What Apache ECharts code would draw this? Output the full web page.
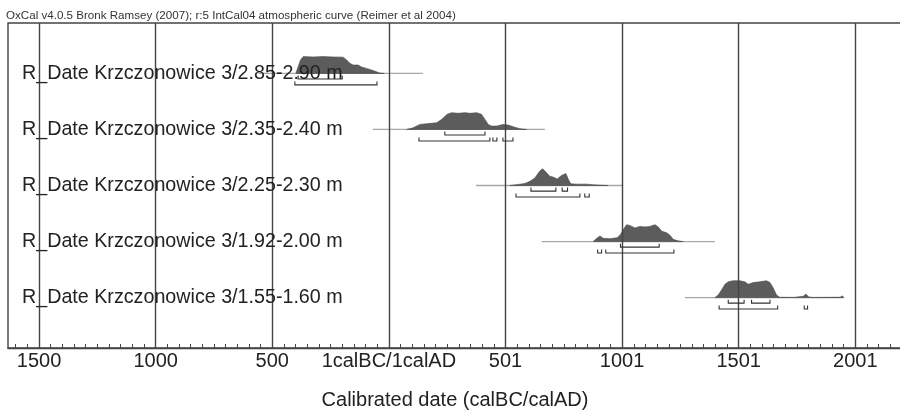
<!DOCTYPE html>
<html>
<head>
<meta charset="utf-8">
<script src="https://cdn.jsdelivr.net/npm/echarts@6/dist/echarts.min.js"></script>
<style>
html,body{margin:0;padding:0;background:#fff;}
#c{width:900px;height:410px;}
</style>
</head>
<body>
<div id="c"></div>
<script>
const titleText = 'OxCal v4.0.5 Bronk Ramsey (2007); r:5 IntCal04 atmospheric curve (Reimer et al 2004)';
const axisName = 'Calibrated date (calBC/calAD)';
const rowNames = [
  'R_Date Krzczonowice 3/2.85-2.90 m',
  'R_Date Krzczonowice 3/2.35-2.40 m',
  'R_Date Krzczonowice 3/2.25-2.30 m',
  'R_Date Krzczonowice 3/1.92-2.00 m',
  'R_Date Krzczonowice 3/1.55-1.60 m'
];
const rowPos = [4.9, 3.9, 2.9, 1.9, 0.9];
const majorTicks = [-1500, -1000, -500, 0, 500, 1000, 1500, 2000];
const majorLabels = ['1500', '1000', '500', '1calBC/1calAD', '501', '1001', '1501', '2001'];

// relative probability curves [year, relative height]
const dist1 = [[-399,0],[-389,0.4],[-379,0.8],[-367,1.0],[-325,0.98],[-282,1.0],[-239,0.98],[-196,0.97],[-181,0.8],[-167,0.6],[-153,0.5],[-132,0.5],[-117,0.38],[-96,0.3],[-74,0.2],[-53,0.1],[-39,0.02],[-20,0]];
const dist2 = [[76,0],[104,0.1],[133,0.3],[162,0.34],[205,0.4],[226,0.6],[250,0.9],[269,1.0],[297,0.96],[326,1.0],[347,0.96],[376,1.0],[397,0.9],[412,0.6],[426,0.3],[440,0.2],[462,0.2],[490,0.3],[512,0.26],[533,0.16],[562,0.04],[590,0]];
const dist3 = [[519,0],[554,0.06],[583,0.12],[605,0.25],[626,0.45],[647,0.86],[659,1.0],[673,0.8],[690,0.55],[704,0.5],[722,0.39],[740,0.6],[759,0.71],[770,0.35],[780,0.1],[805,0.08],[848,0.08],[876,0.04],[919,0.01],[940,0]];
const dist4 = [[876,0],[891,0.19],[905,0.33],[919,0.19],[948,0.17],[979,0.23],[993,0.42],[1005,0.71],[1019,1.0],[1033,0.96],[1055,0.81],[1076,0.9],[1098,0.87],[1119,0.9],[1141,1.0],[1155,0.87],[1169,0.62],[1191,0.52],[1205,0.38],[1219,0.13],[1240,0.04],[1262,0]];
const dist5 = [[1398,0],[1412,0.15],[1427,0.47],[1441,0.79],[1455,0.94],[1476,1.0],[1505,1.0],[1526,0.94],[1541,0.79],[1562,0.89],[1591,0.94],[1619,1.0],[1634,0.89],[1648,0.57],[1662,0.15],[1676,0.02],[1734,0.01],[1777,0.08],[1788,0.21],[1800,0.04],[1819,0.01],[1934,0.02],[1945,0.1],[1951,0]];
const dists = [dist1, dist2, dist3, dist4, dist5];

// faint full range line of each distribution [from, to]
const tails = [[-560,146],[-69,669],[373,1005],[655,1398],[1269,1947]];

// highest probability ranges
const ranges68 = [
  [[-389,-200]],
  [[240,412]],
  [[609,716],[743,766]],
  [[993,1159]],
  [[1455,1523],[1555,1634]]
];
const ranges95 = [
  [[-403,-51]],
  [[129,433],[446,463],[489,532]],
  [[545,819],[840,859]],
  [[895,912],[930,1222]],
  [[1416,1667],[1781,1795]]
];

const X_MIN = -1633, X_MAX = 2200;
const Y_MAX = 5.8;
const PEAK = 0.3;           // height of peak in row units
const OFF68 = 0.1, OFF95 = 0.205;
const FONT = 'Liberation Sans, Arial, sans-serif';

const minorTicks = [];
for (let v = -1600; v <= 2150; v += 50) minorTicks.push(v);

const chart = echarts.init(document.getElementById('c'), null, {renderer: 'canvas'});

const series = [];

// major grid lines
series.push({
  type: 'line', data: [], silent: true,
  markLine: {
    silent: true, symbol: 'none', label: {show: false},
    lineStyle: {type: 'solid', color: '#444', width: 1.4},
    emphasis: {disabled: true},
    data: majorTicks.map(v => ({xAxis: v}))
  }
});

// faint tails
tails.forEach((t, i) => {
  series.push({
    type: 'line', silent: true, showSymbol: false,
    data: [[t[0], rowPos[i]], [t[1], rowPos[i]]],
    lineStyle: {color: '#a8a8a8', width: 1.3},
    z: 3
  });
});

// distributions
dists.forEach((d, i) => {
  series.push({
    type: 'custom', silent: true, z: 4,
    data: [[i]],
    renderItem: function (params, api) {
      const base = rowPos[i];
      const pts = d.map(p => api.coord([p[0], base + p[1] * PEAK]));
      pts.unshift(api.coord([d[0][0], base]));
      pts.push(api.coord([d[d.length - 1][0], base]));
      return {
        type: 'polygon',
        shape: {points: pts},
        style: {fill: '#5c5c5c', stroke: '#4a4a4a', lineWidth: 0.6}
      };
    }
  });
});

// brackets
const brData = [];
ranges68.forEach((rs, i) => rs.forEach(r => brData.push([i, 0, r[0], r[1]])));
ranges95.forEach((rs, i) => rs.forEach(r => brData.push([i, 1, r[0], r[1]])));
series.push({
  type: 'custom', silent: true, z: 5,
  data: brData,
  renderItem: function (params, api) {
    const i = api.value(0), lvl = api.value(1);
    const y = rowPos[i] - (lvl === 0 ? OFF68 : OFF95);
    const a = api.coord([api.value(2), y]);
    const b = api.coord([api.value(3), y]);
    return {
      type: 'polyline',
      shape: {points: [[a[0], a[1] - 3.5], [a[0], a[1]], [b[0], b[1]], [b[0], b[1] - 3.5]]},
      style: {stroke: '#333', lineWidth: 1.1, fill: null}
    };
  }
});

chart.setOption({
  animation: false,
  backgroundColor: '#fff',
  title: {
    text: titleText, left: 6, top: 10, padding: 0,
    textStyle: {fontFamily: FONT, fontSize: 11.6, fontWeight: 'normal', color: '#333'}
  },
  grid: {
    left: 8, right: -2, top: 23, bottom: 62,
    containLabel: false, outerBoundsMode: 'none',
    show: true, borderColor: '#444', borderWidth: 1.4, backgroundColor: 'transparent'
  },
  xAxis: {
    type: 'value', min: X_MIN, max: X_MAX,
    name: axisName, nameLocation: 'middle', nameGap: 42,
    nameTextStyle: {fontFamily: FONT, fontSize: 20, color: '#222'},
    axisLine: {show: true, lineStyle: {color: '#444', width: 1.4}},
    axisTick: {show: true, inside: true, length: 4, customValues: minorTicks, lineStyle: {color: '#444', width: 1}},
    axisLabel: {
      customValues: majorTicks, margin: 3,
      fontFamily: FONT, fontSize: 20, color: '#222',
      formatter: v => { const k = majorTicks.indexOf(v); return k >= 0 ? majorLabels[k] : ''; }
    },
    splitLine: {show: false}
  },
  yAxis: {
    type: 'value', min: 0, max: Y_MAX, z: 10,
    axisLine: {show: false}, axisTick: {show: false}, splitLine: {show: false},
    axisLabel: {
      inside: true, margin: 14, customValues: rowPos,
      fontFamily: FONT, fontSize: 19.7, color: '#222',
      formatter: v => { const k = rowPos.findIndex(p => Math.abs(p - v) < 1e-6); return k >= 0 ? rowNames[k] : ''; }
    }
  },
  series: series
});
</script>
</body>
</html>
